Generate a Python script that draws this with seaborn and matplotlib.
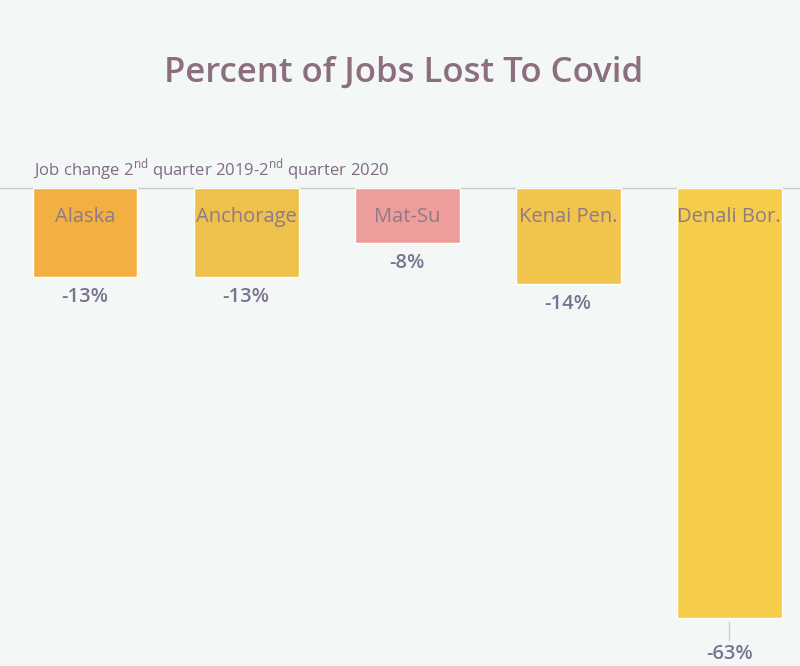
import matplotlib
matplotlib.use("Agg")
import matplotlib.pyplot as plt
import seaborn as sns
import pandas as pd

# Job change, 2nd quarter 2019 to 2nd quarter 2020
regions = ["Alaska", "Anchorage", "Mat-Su", "Kenai Pen.", "Denali Bor."]
pct_change = [-13, -13, -8, -14, -63]
bar_colors = ["#F2B043", "#EEC04C", "#EE9E9A", "#F0C44D", "#F5CD4B"]

sns.set_theme(style="white")
plt.rcParams["font.family"] = ["Open Sans", "DejaVu Sans"]
plt.rcParams["mathtext.fontset"] = "custom"
plt.rcParams["mathtext.rm"] = "Open Sans"

bg = "#F3F7F5"
fig = plt.figure(figsize=(8, 6.66), dpi=100, facecolor=bg)
ax = fig.add_axes([0.036, 0.0, 0.946, 0.7225])
ax.set_facecolor(bg)

df = pd.DataFrame({"region": regions, "change": pct_change})
sns.barplot(data=df, x="region", y="change", hue="region",
            palette=bar_colors, legend=False, width=0.65,
            saturation=1, ax=ax)

ax.set_ylim(-70, 0.5)
ax.set_xlim(-0.35, 4.35)
ax.axhline(0, xmin=-0.05, xmax=1.05, color="#C9CCCB", lw=1.0, zorder=0,
           clip_on=False)
ax.set_xticks([])
ax.set_yticks([])
ax.set_xlabel("")
ax.set_ylabel("")
for s in ax.spines.values():
    s.set_visible(False)

label_col = "#8E7A88"
value_col = "#7B7393"
for i, (name, v) in enumerate(zip(regions, pct_change)):
    ax.text(i, -4.2, name, ha="center", va="center", fontsize=14.5,
            color=label_col)
    offset = 3.0 if v > -50 else 5.2
    if v <= -50:
        ax.plot([i, i], [v - 0.5, v - 3.2], color="#C9CCCB", lw=0.9,
                clip_on=False)
    ax.text(i, v - offset, f"{v}%", ha="center", va="center", fontsize=14.5,
            fontweight="semibold", color=value_col, clip_on=False)

fig.text(0.505, 0.89, "Percent of Jobs Lost To Covid", ha="center",
         va="center", fontsize=25, fontweight="semibold", color="#8C6E7E")
fig.text(0.041, 0.745,
         r"Job change 2$^{\mathrm{nd}}$ quarter 2019-2$^{\mathrm{nd}}$ quarter 2020",
         ha="left", va="center", fontsize=12, color="#7F6A82")

fig.savefig("out.png", dpi=100, facecolor=bg)
